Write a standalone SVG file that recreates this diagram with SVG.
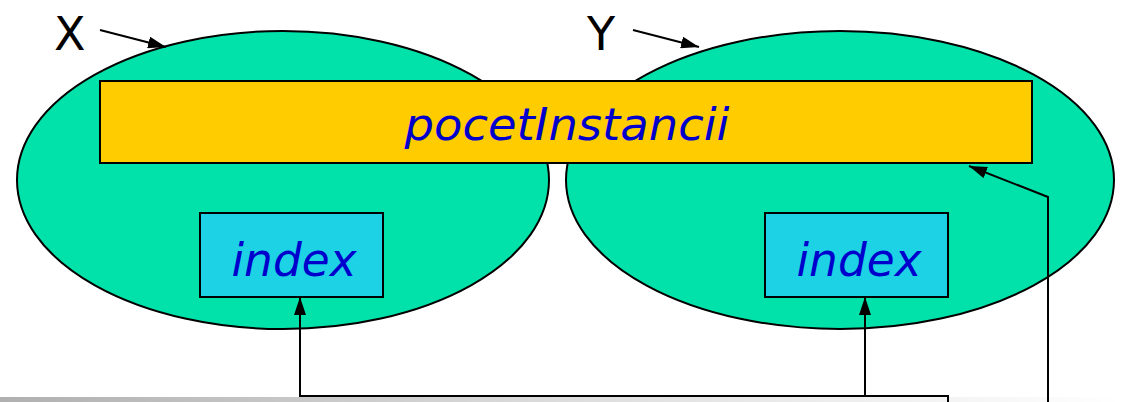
<svg xmlns="http://www.w3.org/2000/svg" width="1124" height="402" viewBox="0 0 1124 402">
<defs>
<marker id="ah" viewBox="0 0 18 12" refX="18" refY="6" markerWidth="18" markerHeight="12" markerUnits="userSpaceOnUse" orient="auto">
<path d="M0,0 L18,6 L0,12 Z" fill="#000"/>
</marker>
<linearGradient id="fade" x1="0" y1="0" x2="1" y2="0">
<stop offset="0" stop-color="#b0b0b0"/>
<stop offset="0.5" stop-color="#dcdcdc"/>
<stop offset="1" stop-color="#ffffff"/>
</linearGradient>
<style>
.obj{fill:#00E2AA;stroke:#000;stroke-width:2}
.box{stroke:#000;stroke-width:2}
.it{font-family:"DejaVu Sans",Verdana,sans-serif;font-style:italic;fill:#0000CC;text-anchor:middle}
.lbl{font-family:"DejaVu Sans",Verdana,sans-serif;fill:#000;font-size:46px}
.con{fill:none;stroke:#000;stroke-width:2}
</style>
</defs>
<rect x="0" y="397" width="1124" height="5" fill="url(#fade)"/>
<g id="objX">
<ellipse class="obj" cx="283" cy="180" rx="266" ry="149"/>
<text class="lbl" x="54" y="50">X</text>
</g>
<g id="objY">
<ellipse class="obj" cx="840" cy="180" rx="274" ry="149"/>
<text class="lbl" x="587" y="50">Y</text>
</g>
<g id="pocetInstancii">
<rect class="box" x="100" y="81" width="932" height="82" fill="#FFCC00"/>
<text class="it" x="567" y="140" font-size="44" textLength="325" lengthAdjust="spacingAndGlyphs">pocetInstancii</text>
</g>
<g id="indexX">
<rect class="box" x="200" y="213" width="183" height="84" fill="#1ED2E6"/>
<text class="it" x="294" y="276" font-size="47" textLength="125" lengthAdjust="spacingAndGlyphs">index</text>
</g>
<g id="indexY">
<rect class="box" x="765" y="213" width="183" height="84" fill="#1ED2E6"/>
<text class="it" x="859" y="276" font-size="47" textLength="125" lengthAdjust="spacingAndGlyphs">index</text>
</g>
<g id="connectors">
<line class="con" x1="100" y1="30" x2="166" y2="47" marker-end="url(#ah)"/>
<line class="con" x1="633" y1="30" x2="699" y2="47" marker-end="url(#ah)"/>
<polyline class="con" points="948,402 948,396 300,396 300,297" marker-end="url(#ah)"/>
<line class="con" x1="865" y1="396" x2="865" y2="297" marker-end="url(#ah)"/>
<polyline class="con" points="1048,402 1048,197 969,166" marker-end="url(#ah)"/>
</g>
</svg>
